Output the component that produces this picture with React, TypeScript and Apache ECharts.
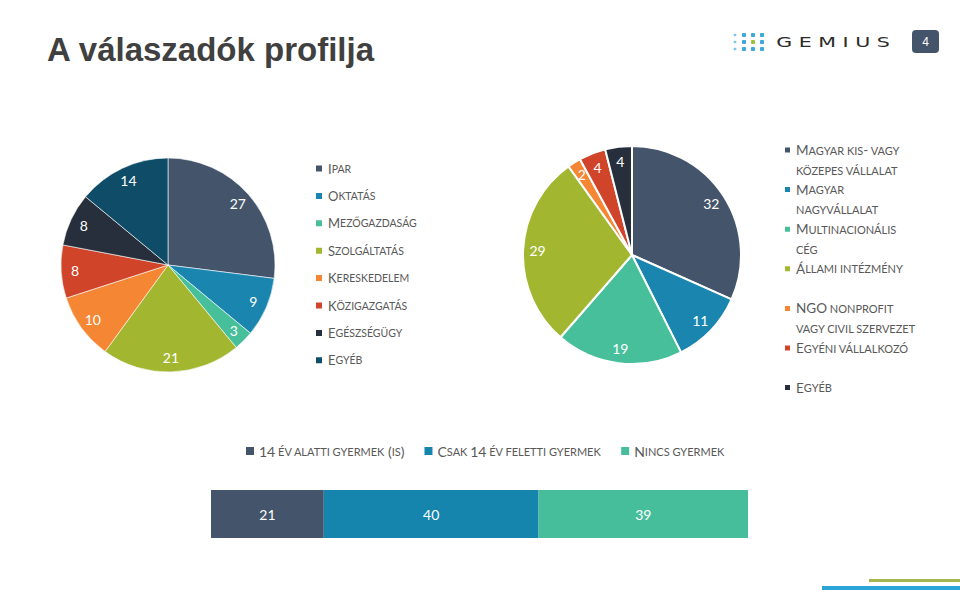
import React, { useEffect, useRef } from "react";
import * as echarts from "echarts";

// ---- Data ----
const sectorNames = ["Ipar", "Oktatás", "Mezőgazdaság", "Szolgáltatás", "Kereskedelem", "Közigazgatás", "Egészségügy", "Egyéb"];
const sectorValues = [27, 9, 3, 21, 10, 8, 8, 14];
const sectorColors = ["#44546A", "#1A86B0", "#47BF9B", "#A2B72F", "#F58634", "#D0442A", "#262F3B", "#0F4C67"];

const employerNames = [
  "Magyar kis- vagy közepes vállalat",
  "Magyar nagyvállalat",
  "Multinacionális cég",
  "Állami intézmény",
  "NGO nonprofit vagy civil szervezet",
  "Egyéni vállalkozó",
  "Egyéb",
];
const employerLegendLines = [
  ["Magyar kis- vagy", "közepes vállalat"],
  ["Magyar", "nagyvállalat"],
  ["Multinacionális", "cég"],
  ["Állami intézmény", ""],
  ["NGO nonprofit", "vagy civil szervezet"],
  ["Egyéni vállalkozó", ""],
  ["Egyéb", ""],
];
const employerValues = [32, 11, 19, 29, 2, 4, 4];
const employerColors = ["#44546A", "#1A86B0", "#47BF9B", "#A2B72F", "#F58634", "#D0442A", "#262F3B"];

const childNames = ["14 év alatti gyermek (is)", "Csak 14 év feletti gyermek", "Nincs gyermek"];
const childValues = [21, 40, 39];
const childColors = ["#44546A", "#1585AE", "#47BE9B"];
const childCategory = ["Gyermek"];

const TEXT_GREY = "#595959";
const FONT = "Lato";

// small caps emulation via rich text
function smallCaps(text: string): string {
  let out = "";
  let run = "";
  let runType = "";
  const flush = () => {
    if (run) out += `{${runType}|${run}}`;
    run = "";
  };
  for (const ch of text) {
    const lower = ch !== ch.toUpperCase();
    const t = lower || ch === " " ? "s" : "b";
    const c = lower ? ch.toUpperCase() : ch;
    if (t !== runType) {
      flush();
      runType = t;
    }
    run += c;
  }
  flush();
  return out;
}

function richStyles(lineHeight: number, big: number, small: number) {
  return {
    b: { fontFamily: FONT, fontSize: big, color: TEXT_GREY, lineHeight },
    s: { fontFamily: FONT, fontSize: small, color: TEXT_GREY, lineHeight },
  };
}

export default function App() {
  const ref = useRef<HTMLDivElement>(null);

  useEffect(() => {
    if (!ref.current) return;
    const chart = echarts.init(ref.current, undefined, { renderer: "svg" });

    const dotCols = [735, 744, 753, 762];
    const dotRows = [35, 42, 49];
    const logoDots: any[] = [];
    dotRows.forEach((y, ri) => {
      dotCols.forEach((x, ci) => {
        const size = ci === 0 ? 2.6 : 4;
        const green = ri === 1 && ci === 2;
        logoDots.push({
          type: "rect",
          shape: { x: x - size / 2, y: y - size / 2, width: size, height: size, r: 0.8 },
          style: { fill: green ? "#9DC03B" : ci === 0 ? "#7CC6EA" : "#3FA9DC" },
          silent: true,
        });
      });
    });

    const option: any = {
      animation: false,
      backgroundColor: "#ffffff",
      graphic: [
        {
          type: "text",
          x: 47,
          y: 49,
          style: {
            text: "A válaszadók profilja",
            fontSize: 33,
            fontWeight: "bold",
            fontFamily: "Liberation Sans",
            fill: "#404040",
            verticalAlign: "middle",
          },
        },
        ...logoDots,
        {
          type: "text",
          x: 833,
          y: 42,
          scaleX: 1.47,
          style: {
            text: "G E M I U S",
            fontSize: 14,
            fontFamily: "DejaVu Sans",
            fill: "#2b2b2b",
            align: "center",
            verticalAlign: "middle",
          },
        },
        {
          type: "rect",
          shape: { x: 912, y: 30, width: 27, height: 23, r: 4 },
          style: { fill: "#44546A" },
        },
        {
          type: "text",
          x: 925.5,
          y: 41.5,
          style: {
            text: "4",
            fontSize: 12,
            fontFamily: "Liberation Sans",
            fill: "#ffffff",
            align: "center",
            verticalAlign: "middle",
          },
        },
        {
          type: "rect",
          shape: { x: 869, y: 579, width: 91, height: 3 },
          style: { fill: "#A2B550" },
        },
        {
          type: "rect",
          shape: { x: 822, y: 586, width: 138, height: 4 },
          style: { fill: "#2BA5D7" },
        },
      ],
      legend: [
        {
          orient: "vertical",
          left: 314,
          top: 162,
          padding: 0,
          itemWidth: 8,
          itemHeight: 8,
          itemGap: 14.4,
          icon: "rect",
          data: sectorNames,
          formatter: (n: string) => smallCaps(n),
          textStyle: { rich: richStyles(16, 13, 10.5) },
        },
        {
          orient: "vertical",
          left: 783,
          top: 143,
          padding: 0,
          itemWidth: 7,
          itemHeight: 7,
          itemGap: 7.1,
          icon: "rect",
          data: employerNames.map((n, i) =>
            i === employerNames.length - 1 ? { name: n, itemStyle: { color: employerColors[i] } } : n
          ),
          formatter: (n: string) => {
            const i = employerNames.indexOf(n);
            return employerLegendLines[i].map((l) => (l ? smallCaps(l) : "{s| }")).join("\n");
          },
          textStyle: { padding: [20, 0, 0, 0], rich: richStyles(20, 13.5, 11) },
        },
        {
          orient: "horizontal",
          left: 246,
          top: 444,
          padding: 0,
          itemWidth: 8,
          itemHeight: 8,
          itemGap: 20,
          icon: "rect",
          data: childNames,
          formatter: (n: string) => smallCaps(n),
          textStyle: { rich: richStyles(16, 14, 11) },
        },
      ],
      grid: { left: 211, top: 490, width: 537, height: 48 },
      xAxis: { type: "value", min: 0, max: 100, show: false },
      yAxis: { type: "category", data: childCategory, show: false },
      series: [
        {
          type: "pie",
          name: "Ágazat",
          center: [168, 265],
          radius: 107,
          startAngle: 90,
          clockwise: true,
          avoidLabelOverlap: false,
          label: { show: false },
          labelLine: { show: false },
          itemStyle: { borderColor: "#ffffff", borderWidth: 0.6 },
          emphasis: { scale: false },
          data: sectorNames.map((n, i) => ({ name: n, value: sectorValues[i], itemStyle: { color: sectorColors[i] } })),
        },
        {
          type: "pie",
          name: "Munkahely",
          center: [632, 255],
          radius: 109,
          startAngle: 90,
          clockwise: true,
          avoidLabelOverlap: false,
          label: { show: false },
          labelLine: { show: false },
          itemStyle: { borderColor: "#ffffff", borderWidth: 2 },
          emphasis: { scale: false },
          data: employerNames.map((n, i) => ({ name: n, value: employerValues[i], itemStyle: { color: employerColors[i] } })),
        },
        {
          type: "pie",
          name: "Ágazat címkék",
          center: [168, 265],
          radius: [73, 107],
          startAngle: 90,
          clockwise: true,
          silent: true,
          avoidLabelOverlap: false,
          itemStyle: { color: "rgba(0,0,0,0)" },
          label: { show: true, position: "inside", formatter: "{c}", color: "#ffffff", fontFamily: FONT, fontSize: 14 },
          labelLine: { show: false },
          data: sectorNames.map((n, i) => ({ name: n, value: sectorValues[i] })),
        },
        {
          type: "pie",
          name: "Munkahely címkék",
          center: [632, 255],
          radius: [74, 109],
          startAngle: 90,
          clockwise: true,
          silent: true,
          avoidLabelOverlap: false,
          itemStyle: { color: "rgba(0,0,0,0)" },
          label: { show: true, position: "inside", formatter: "{c}", color: "#ffffff", fontFamily: FONT, fontSize: 14 },
          labelLine: { show: false },
          data: employerNames.map((n, i) => ({ name: n, value: employerValues[i] })),
        },
        ...childNames.map((n, i) => ({
          type: "bar",
          name: n,
          stack: "total",
          barWidth: "100%",
          data: [childValues[i]],
          itemStyle: { color: childColors[i] },
          label: { show: true, position: "inside", color: "#ffffff", fontFamily: FONT, fontSize: 14 },
        })),
      ],
    };

    chart.setOption(option);
    return () => chart.dispose();
  }, []);

  return <div ref={ref} style={{ position: "absolute", left: 0, top: 0, width: 960, height: 600 }} />;
}
